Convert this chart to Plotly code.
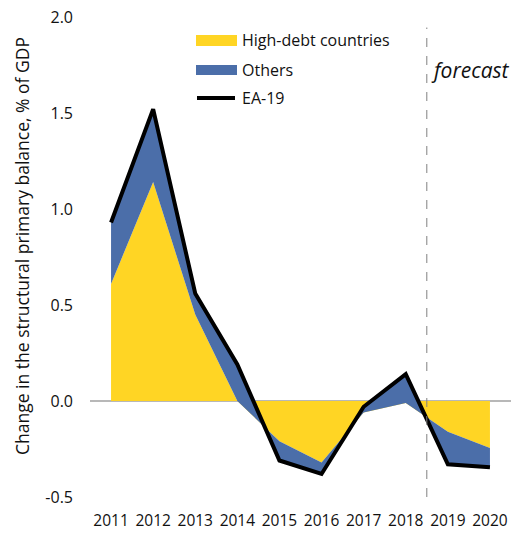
import plotly.graph_objects as go

years = [2011, 2012, 2013, 2014, 2015, 2016, 2017, 2018, 2019, 2020]
high_debt = [0.61, 1.14, 0.45, 0.00, -0.21, -0.32, -0.06, -0.01, -0.16, -0.245]
others = [0.32, 0.38, 0.11, 0.19, -0.10, -0.06, 0.03, 0.15, -0.17, -0.10]
ea19 = [0.93, 1.52, 0.56, 0.19, -0.31, -0.38, -0.03, 0.14, -0.33, -0.345]
y_ticks = [-0.5, 0.0, 0.5, 1.0, 1.5, 2.0]
forecast_start = 2018.5
legend_names = ["High-debt countries", "Others", "EA-19"]

FONT = "Open Sans"
TXT = "#111"
YELLOW = "#FFD524"
BLUE = "#4B6EA9"

W, H = 519, 534
L, R, T, B = 90, 8, 17, 37
PW, PH = W - L - R, H - T - B


def px(x):
    return (x - L) / PW


def py(y):
    return (H - B - y) / PH


fig = go.Figure()
fig.add_trace(go.Scatter(x=years, y=high_debt, name=legend_names[0], stackgroup="one",
                         mode="lines", line=dict(width=0, color=YELLOW), fillcolor=YELLOW))
fig.add_trace(go.Scatter(x=years, y=others, name=legend_names[1], stackgroup="one",
                         mode="lines", line=dict(width=0, color=BLUE), fillcolor=BLUE))
fig.add_trace(go.Scatter(x=years, y=ea19, name=legend_names[2], mode="lines",
                         line=dict(width=4, color="black")))

fig.add_shape(type="line", x0=2010.5, x1=2020.5, y0=0, y1=0, xref="x", yref="y",
              line=dict(color="#A0A0A0", width=1.5), layer="below")
fig.add_shape(type="line", x0=forecast_start, x1=forecast_start, y0=-0.5, y1=1.945,
              xref="x", yref="y", line=dict(color="#808080", width=1, dash="dash"))
fig.add_annotation(x=forecast_start, y=py(70), xref="x", yref="paper", text="<i>forecast</i>",
                   showarrow=False, xanchor="left", yanchor="middle", xshift=2,
                   font=dict(family=FONT, size=21, color=TXT))

# manual legend
fig.add_shape(type="rect", xref="paper", yref="paper", x0=px(196), x1=px(237),
              y0=py(46), y1=py(35), fillcolor=YELLOW, line=dict(width=0))
fig.add_shape(type="rect", xref="paper", yref="paper", x0=px(196), x1=px(237),
              y0=py(75), y1=py(65), fillcolor=BLUE, line=dict(width=0))
fig.add_shape(type="line", xref="paper", yref="paper", x0=px(197), x1=px(235),
              y0=py(98), y1=py(98), line=dict(color="black", width=4))
for name, yy in zip(legend_names, [40, 70, 98]):
    fig.add_annotation(x=px(240), y=py(yy), xref="paper", yref="paper", text=name,
                       showarrow=False, xanchor="left", yanchor="middle",
                       font=dict(family=FONT, size=16, color=TXT))

# y-axis title
fig.add_annotation(x=px(22), y=py(246), xref="paper", yref="paper",
                   text="Change in the structural primary balance, % of GDP",
                   textangle=-90, showarrow=False, xanchor="center", yanchor="middle",
                   font=dict(family=FONT, size=17.5, color=TXT))

fig.update_layout(
    width=W, height=H,
    margin=dict(l=L, r=R, t=T, b=B, autoexpand=False),
    paper_bgcolor="white", plot_bgcolor="white",
    font=dict(family=FONT, size=15, color=TXT),
    showlegend=False,
    xaxis=dict(range=[2010.5, 2020.5], tickmode="array", tickvals=years,
               ticktext=[str(y) for y in years], showgrid=False, zeroline=False,
               showline=False, ticks="", ticklabelstandoff=12, automargin=False,
               tickfont=dict(family=FONT, size=15.5, color=TXT)),
    yaxis=dict(range=[-0.5, 2.0], tickmode="array", tickvals=y_ticks,
               ticktext=[f"{v:.1f}" for v in y_ticks], showgrid=False, zeroline=False,
               showline=False, ticks="", ticklabelstandoff=16, automargin=False,
               tickfont=dict(family=FONT, size=16, color=TXT)),
)

fig.write_html("out.html", config={"displayModeBar": False},
               post_script="document.body.style.margin='0';")
